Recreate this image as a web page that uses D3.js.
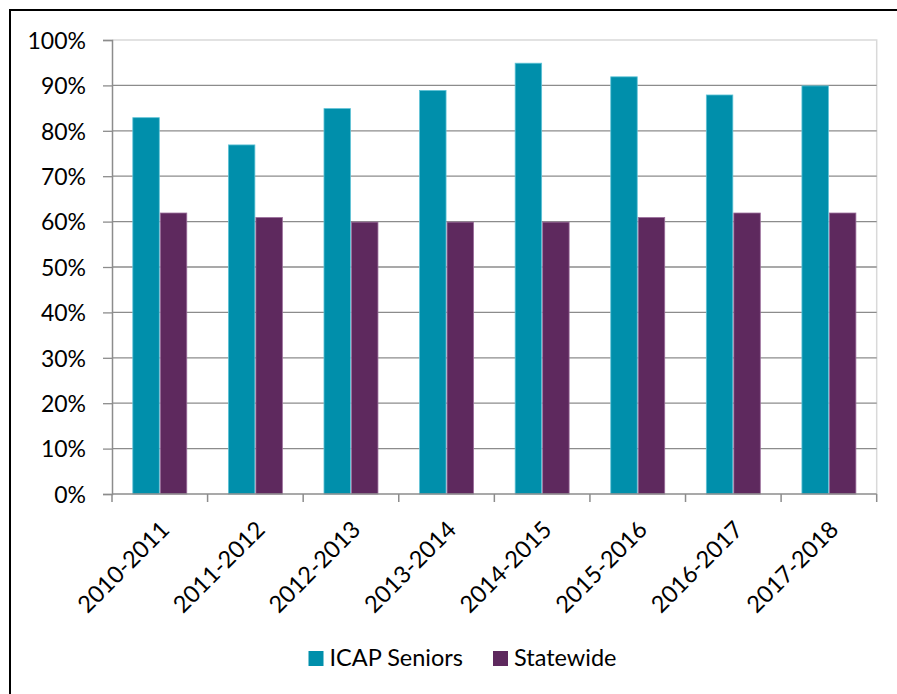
<!DOCTYPE html>
<html>
<head>
<meta charset="utf-8">
<script src="https://cdn.jsdelivr.net/npm/d3@7"></script>
<style>
  html, body { margin: 0; padding: 0; background: #fff; }
  svg { display: block; }
  text { font-family: Lato, "Open Sans", sans-serif; fill: #000; }
</style>
</head>
<body>
<svg id="chart" width="897" height="694"></svg>
<script>
// School years on the category axis
const categories = ["2010-2011", "2011-2012", "2012-2013", "2013-2014",
                    "2014-2015", "2015-2016", "2016-2017", "2017-2018"];
// Series names and values (percent)
const seriesNames = ["ICAP Seniors", "Statewide"];
const icapSeniors = [83, 77, 85, 89, 95, 92, 88, 90];
const statewide   = [62, 61, 60, 60, 60, 61, 62, 62];
// Value-axis tick labels
const yTicks = [0, 10, 20, 30, 40, 50, 60, 70, 80, 90, 100];

const colors = { "ICAP Seniors": "#008fab", "Statewide": "#5e295e" };
const edges  = { "ICAP Seniors": "#5fc3d6", "Statewide": "#9a6c9a" };

const svg = d3.select("#chart");
const W = 897, H = 694;

// outer frame (runs off the right and bottom of the page)
svg.append("rect")
  .attr("x", 10).attr("y", 10)
  .attr("width", W + 20).attr("height", H + 20)
  .attr("fill", "none").attr("stroke", "#000").attr("stroke-width", 2);

const plot = { left: 112, right: 876.7, top: 40, bottom: 494 };

const x0 = d3.scaleBand()
  .domain(categories)
  .range([plot.left, plot.right])
  .paddingInner(0.425)
  .paddingOuter(0.2125);

const x1 = d3.scaleBand()
  .domain(seriesNames)
  .range([0, x0.bandwidth()]);

const y = d3.scaleLinear().domain([0, 100]).range([plot.bottom, plot.top]);

const rows = categories.map((c, i) => ({
  cat: c,
  vals: [
    { name: seriesNames[0], v: icapSeniors[i] },
    { name: seriesNames[1], v: statewide[i] }
  ]
}));

// plot-area frame on top and right
svg.append("path")
  .attr("d", `M${plot.left},${plot.top}H${plot.right}V${plot.bottom}`)
  .attr("fill", "none").attr("stroke", "#d9d9d9").attr("stroke-width", 1.5);

// horizontal gridlines
svg.append("g")
  .selectAll("line")
  .data(yTicks.filter(t => t > 0 && t < 100))
  .join("line")
  .attr("x1", plot.left).attr("x2", plot.right)
  .attr("y1", d => y(d)).attr("y2", d => y(d))
  .attr("stroke", "#8c8c8c").attr("stroke-width", 1.3);

// bars
svg.append("g")
  .selectAll("g")
  .data(rows)
  .join("g")
  .attr("transform", d => `translate(${x0(d.cat)},0)`)
  .selectAll("rect")
  .data(d => d.vals)
  .join("rect")
  .attr("x", d => x1(d.name) + 0.5)
  .attr("width", x1.bandwidth() - 1)
  .attr("y", d => y(d.v) + 0.5)
  .attr("height", d => y(0) - y(d.v) - 0.5)
  .attr("fill", d => colors[d.name])
  .attr("stroke", d => edges[d.name])
  .attr("stroke-width", 0.8);

// value axis
const yAxis = d3.axisLeft(y)
  .tickValues(yTicks)
  .tickSize(9)
  .tickPadding(17)
  .tickFormat(d => d + "%");
const gy = svg.append("g")
  .attr("transform", `translate(${plot.left},0)`)
  .call(yAxis);
gy.select(".domain").attr("stroke", "#8c8c8c").attr("stroke-width", 1.5);
gy.selectAll(".tick line").attr("stroke", "#8c8c8c").attr("stroke-width", 1.3);
gy.selectAll(".tick text")
  .style("font-size", "23px")
  .attr("dy", "0.36em");

// category axis: baseline plus boundary ticks
const step = x0.step();
const boundaries = d3.range(categories.length + 1)
  .map(i => plot.left + i * step);
svg.append("line")
  .attr("x1", plot.left).attr("x2", plot.right)
  .attr("y1", plot.bottom).attr("y2", plot.bottom)
  .attr("stroke", "#8c8c8c").attr("stroke-width", 1.5);
svg.append("g")
  .selectAll("line")
  .data(boundaries)
  .join("line")
  .attr("x1", d => d).attr("x2", d => d)
  .attr("y1", plot.bottom).attr("y2", plot.bottom + 8)
  .attr("stroke", "#8c8c8c").attr("stroke-width", 1.5);

// rotated category labels
svg.append("g")
  .selectAll("text")
  .data(categories)
  .join("text")
  .attr("transform", d => `translate(${x0(d) + x0.bandwidth() / 2 + 5},${plot.bottom + 31}) rotate(-45)`)
  .attr("text-anchor", "end")
  .attr("dy", "0.36em")
  .style("font-size", "23.5px")
  .text(d => d);

// legend, centred under the plot
const legend = svg.append("g");
const items = legend.selectAll("g")
  .data(seriesNames)
  .join("g");
items.append("rect")
  .attr("width", 15).attr("height", 15)
  .attr("y", -15)
  .attr("fill", d => colors[d]);
items.append("text")
  .attr("x", 21)
  .style("font-size", "23.5px")
  .text(d => d);
let cursor = 0;
items.each(function () {
  const g = d3.select(this);
  const w = 21 + g.select("text").node().getComputedTextLength();
  g.attr("transform", `translate(${cursor},0)`);
  cursor += w + 30;
});
const legendWidth = cursor - 30;
legend.attr("transform", `translate(${462.5 - legendWidth / 2},666)`);
</script>
</body>
</html>
